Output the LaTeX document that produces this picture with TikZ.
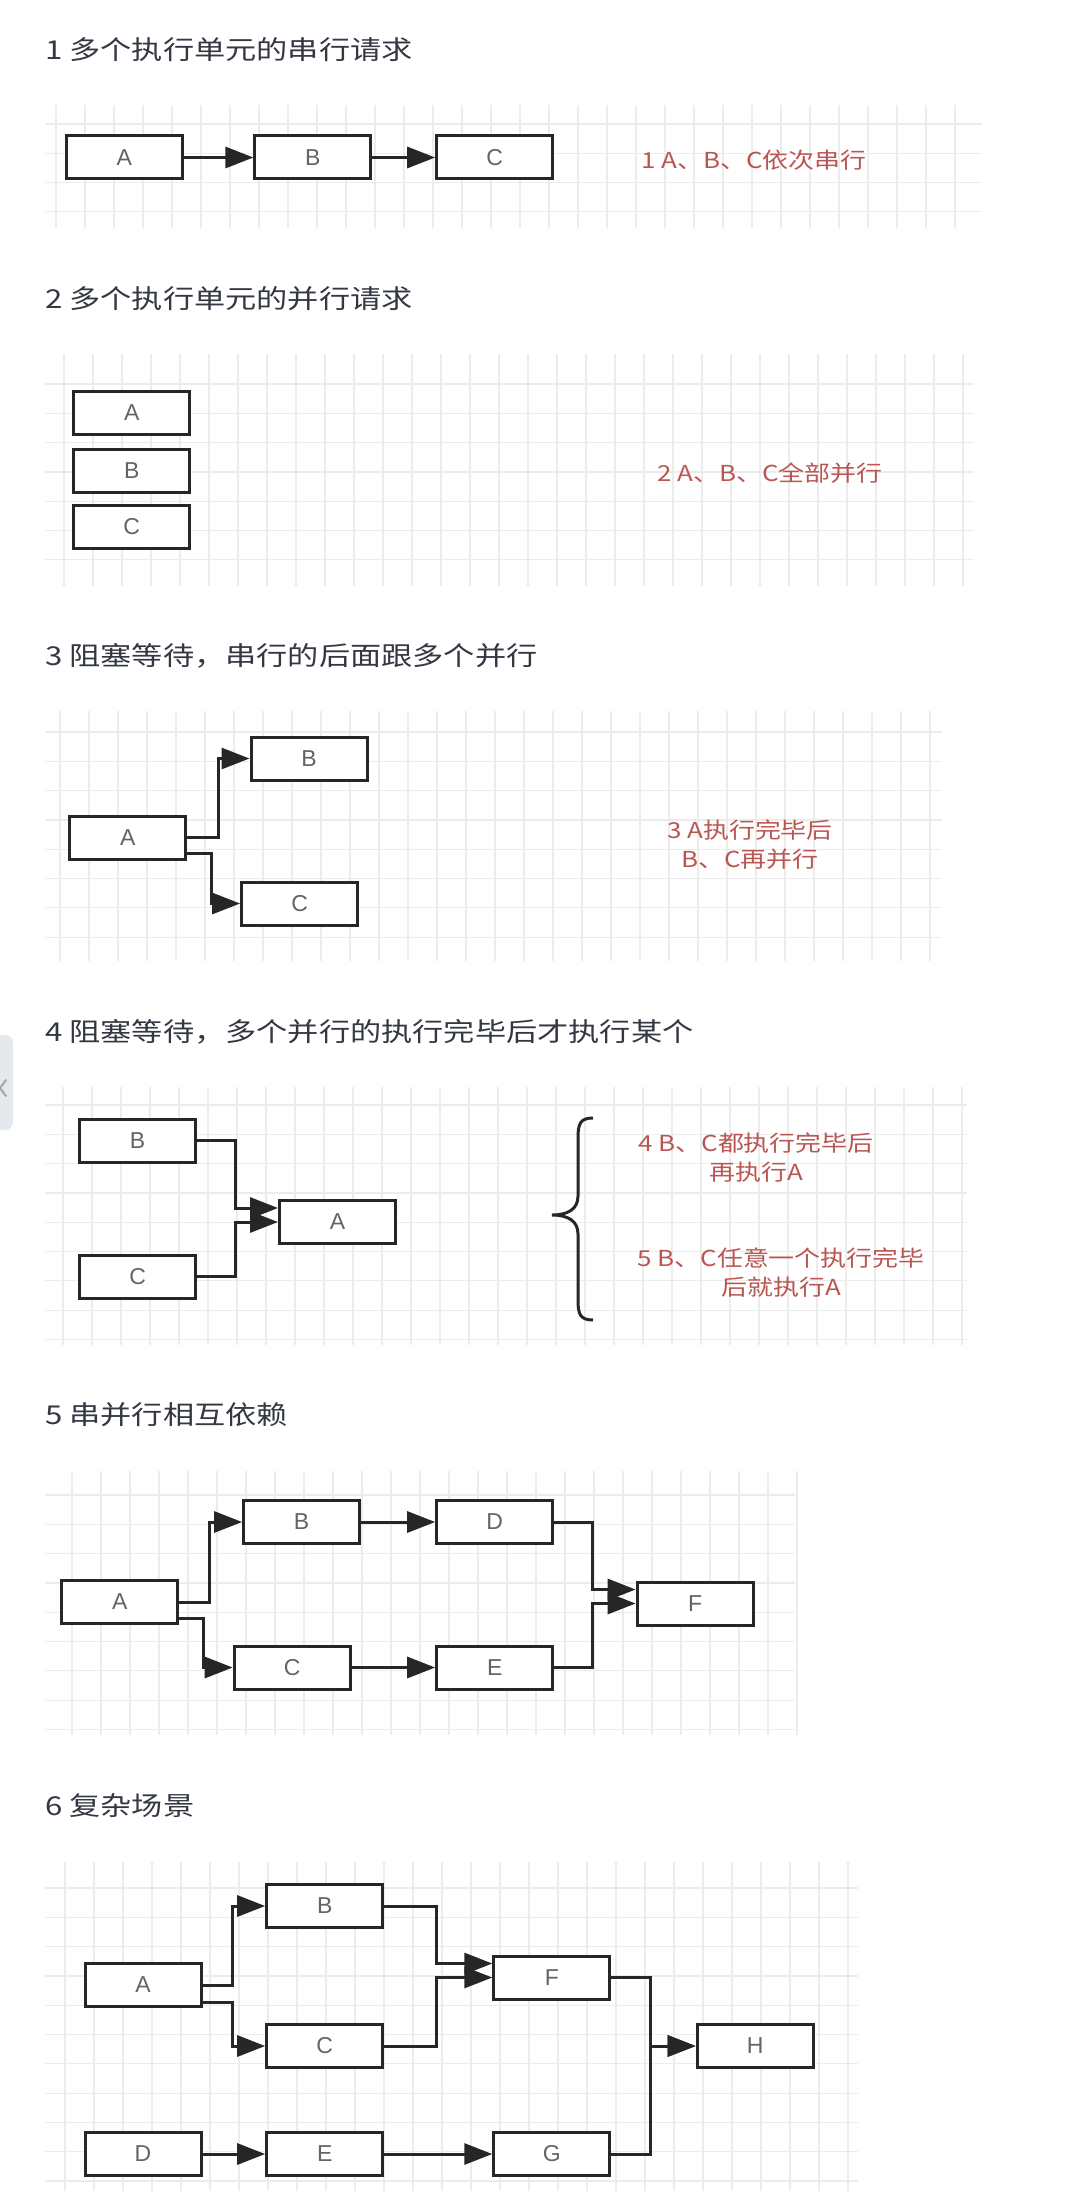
\documentclass[tikz,border=0pt]{standalone}
\usepackage{fontspec}
\usetikzlibrary{arrows.meta}
\setmainfont{Noto Sans CJK SC}
\newfontfamily\titlefont[FakeStretch=1.2]{Noto Sans CJK SC}
\newfontfamily\notefont[FakeStretch=1.18]{Noto Sans CJK SC}
\newfontfamily\labelfont{Liberation Sans}
\definecolor{titleink}{RGB}{52,56,66}
\definecolor{notered}{RGB}{186,86,82}
\definecolor{boxline}{RGB}{38,38,38}
\definecolor{labelgray}{RGB}{100,100,100}
\definecolor{gridgray}{RGB}{236,236,236}
\definecolor{tabgray}{RGB}{229,232,237}

% light draw.io style grid behind each diagram
\newcommand{\bggrid}[8]{%
  \foreach \k in {0,...,#6}
    \draw[gridline] ({#5+29*\k},#2) -- ({#5+29*\k},#4);
  \foreach \k in {0,...,#8}
    \draw[gridline] (#1,{#7+29.3*\k}) -- (#3,{#7+29.3*\k});
}

\begin{document}
\begin{tikzpicture}[
  x=1pt, y=-1pt,
  heading/.style={anchor=west, inner sep=0, text=titleink,
                  font=\titlefont\fontsize{26}{30}\selectfont},
  remark/.style={inner sep=0, text=notered, align=center,
                 font=\notefont\fontsize{22}{29}\selectfont},
  task/.style={rectangle, draw=boxline, line width=3pt, fill=white,
               minimum width=116pt, minimum height=43pt, inner sep=0,
               text=labelgray, font=\labelfont\fontsize{23}{26}\selectfont},
  flow/.style={draw=boxline, line width=3pt, -{Triangle[length=28pt,width=21pt]}},
  gridline/.style={draw=gridgray, line width=1.2pt}
]
\fill[white] (0,0) rectangle (1080,2191);
\useasboundingbox (0,0) rectangle (1080,2191);

\bggrid{45}{105}{982}{228}{56}{31}{124}{3}
\bggrid{45}{354}{974}{586}{64}{31}{384}{6}
\bggrid{45}{711}{942}{961}{60}{30}{732}{7}
\bggrid{45}{1087}{967}{1345}{63}{31}{1105}{8}
\bggrid{45}{1471}{795}{1735}{72}{25}{1495}{8}
\bggrid{45}{1862}{858}{2191}{65}{27}{1888}{10}

\fill[tabgray, rounded corners=8pt] (-12,1035) rectangle (13,1130);
\draw[gray!70, line width=2pt, line cap=round] (6,1080) -- (0,1088) -- (6,1096);

\node[heading] (t1) at (45,50) {1 多个执行单元的串行请求};
\node[task] (A1) at (124.3,157.5) {A};
\node[task] (B1) at (312.9,157.5) {B};
\node[task] (C1) at (494.7,157.5) {C};
\node[remark] (r1) at (754,160) {1 A、B、C依次串行};
\draw[flow] (A1) -- (B1);
\draw[flow] (B1) -- (C1);

\node[heading] (t2) at (45,299) {2 多个执行单元的并行请求};
\node[task] (A2) at (131.7,413) {A};
\node[task] (B2) at (131.7,470.5) {B};
\node[task] (C2) at (131.7,527) {C};
\node[remark] (r2) at (770,473) {2 A、B、C全部并行};

\node[heading] (t3) at (45,656) {3 阻塞等待，串行的后面跟多个并行};
\node[task] (B3) at (309,758.5) {B};
\node[task] (A3) at (127.7,837.5) {A};
\node[task] (C3) at (299.6,903.5) {C};
\node[remark] (r3) at (750,845) {3 A执行完毕后\\B、C再并行};
\draw[flow] (A3.east) -| ([xshift=-31pt]B3.west) -- (B3.west);
\draw[flow] ([yshift=-16pt]A3.east) -| ([xshift=-29pt]C3.west) -- (C3.west);

\node[heading] (t4) at (45,1032) {4 阻塞等待，多个并行的执行完毕后才执行某个};
\node[task] (B4) at (137.6,1140.5) {B};
\node[task] (C4) at (137.6,1276.5) {C};
\node[task] (A4) at (337.5,1222) {A};
\draw[flow] (B4.east) -| ([xshift=-43pt,yshift=14pt]A4.west) -- ([yshift=14pt]A4.west);
\draw[flow] (C4.east) -| ([xshift=-43pt]A4.west) -- (A4.west);
\draw[boxline, line width=3pt]
  (593,1118) .. controls (580,1118) and (578,1124) .. (578,1138)
  -- (578,1196) .. controls (578,1209) and (568,1215) .. (552,1215)
  .. controls (568,1215) and (578,1221) .. (578,1234)
  -- (578,1300) .. controls (578,1314) and (580,1320) .. (593,1320);
\node[remark] (r4) at (756,1158) {4 B、C都执行完毕后\\再执行A};
\node[remark] (r5) at (781,1273) {5 B、C任意一个执行完毕\\后就执行A};

\node[heading] (t5) at (45,1415) {5 串并行相互依赖};
\node[task] (A5) at (119.9,1602) {A};
\node[task] (B5) at (301.6,1522) {B};
\node[task] (D5) at (494.7,1522) {D};
\node[task] (C5) at (292.2,1667.5) {C};
\node[task] (E5) at (494.7,1667.5) {E};
\node[task] (F5) at (695.1,1603.5) {F};
\draw[flow] (A5.east) -| ([xshift=-33pt]B5.west) -- (B5.west);
\draw[flow] ([yshift=-16pt]A5.east) -| ([xshift=-29pt]C5.west) -- (C5.west);
\draw[flow] (B5) -- (D5);
\draw[flow] (C5) -- (E5);
\draw[flow] (D5.east) -| ([xshift=-43pt,yshift=14pt]F5.west) -- ([yshift=14pt]F5.west);
\draw[flow] (E5.east) -| ([xshift=-43pt]F5.west) -- (F5.west);

\node[heading] (t6) at (45,1806) {6 复杂场景};
\node[task] (A6) at (143,1985) {A};
\node[task] (B6) at (324.7,1906) {B};
\node[task] (C6) at (324.7,2046) {C};
\node[task] (F6) at (551.8,1977.5) {F};
\node[task] (H6) at (755.2,2046) {H};
\node[task] (D6) at (143,2154) {D};
\node[task] (E6) at (324.7,2154) {E};
\node[task] (G6) at (551.8,2154) {G};
\draw[flow] (A6.east) -| ([xshift=-33pt]B6.west) -- (B6.west);
\draw[flow] ([yshift=-17pt]A6.east) -| ([xshift=-33pt]C6.west) -- (C6.west);
\draw[flow] (B6.east) -| ([xshift=-56pt,yshift=14pt]F6.west) -- ([yshift=14pt]F6.west);
\draw[flow] (C6.east) -| ([xshift=-56pt]F6.west) -- (F6.west);
\draw[flow] (F6.east) -| ([xshift=-45pt]H6.west) -- (H6.west);
\draw[flow] (G6.east) -| ([xshift=-45pt]H6.west) -- (H6.west);
\draw[flow] (D6) -- (E6);
\draw[flow] (E6) -- (G6);
\end{tikzpicture}
\end{document}
